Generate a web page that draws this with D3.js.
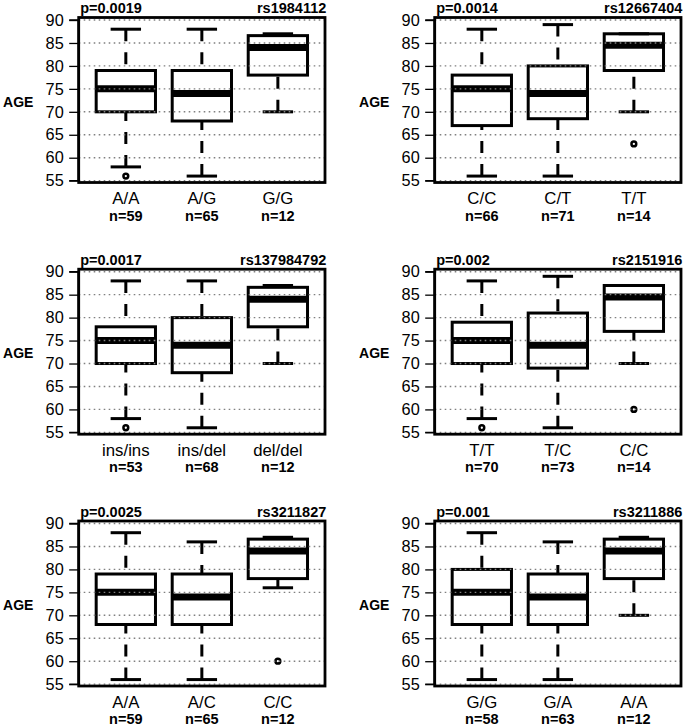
<!DOCTYPE html>
<html><head><meta charset="utf-8">
<script src="https://cdn.jsdelivr.net/npm/d3@7"></script>
<style>
html,body{margin:0;padding:0;background:#fff;}
svg{display:block;font-family:"Liberation Sans",Arial,Helvetica,sans-serif;}
</style></head>
<body>
<svg id="chart" width="685" height="727"></svg>
<script>
// ---- data ----
const snps = ["rs1984112","rs12667404","rs137984792","rs2151916","rs3211827","rs3211886"];
const pValues = ["p=0.0019","p=0.0014","p=0.0017","p=0.002","p=0.0025","p=0.001"];
const genotypes = [["A/A","A/G","G/G"],["C/C","C/T","T/T"],["ins/ins","ins/del","del/del"],["T/T","T/C","C/C"],["A/A","A/C","C/C"],["G/G","G/A","A/A"]];
const counts = [[59,65,12],[66,71,14],[53,68,12],[70,73,14],[59,65,12],[58,63,12]];
const whiskerLow  = [[58,56,70],[56,56,70],[58,56,70],[58,56,70],[56,56,76],[56,56,70]];
const q1          = [[70,68,78],[67,68.5,79],[70,68,78],[70,69,77],[68,68,78],[68,68,78]];
const medians     = [[75,74,84],[75,74,84.5],[75,74,84],[75,74,84.5],[75,74,84],[75,74,84]];
const q3          = [[79,79,86.6],[78,80,87],[78,80,86.6],[79,81,87],[79,79,86.6],[80,79,86.6]];
const whiskerHigh = [[88,88,87],[88,89,87],[88,88,87],[88,89,87],[88,86,87],[88,86,87]];
const outliers    = [[[56],[],[]],[[],[],[63]],[[56],[],[]],[[56],[],[60]],[[],[],[60]],[[],[],[]]];
const yTicks = [55,60,65,70,75,80,85,90];
const yLabel = "AGE";

// ---- layout ----
const svg = d3.select("#chart");
const colX = [78.7, 434.7];
const rowY = [17.5, 269.2, 521];
const plotW = 246.3, plotH = 165;
const FONT = '"Liberation Sans",Arial,Helvetica,sans-serif';

snps.forEach((snp, i) => {
  const col = i % 2, row = Math.floor(i / 2);
  const g = svg.append("g").attr("transform", `translate(${colX[col]},${rowY[row]})`);
  const x = d3.scaleLinear().domain([0.38, 3.62]).range([0, plotW]);
  const y = d3.scaleLinear().domain([54.6, 90.55]).range([plotH, 0]);
  const cats = genotypes[i];
  const bw = (x(1.39) - x(1)); // half box width
  const sw = (x(1.2) - x(1));  // half staple width

  // y axis
  const yAxis = d3.axisLeft(y).tickValues(yTicks).tickSize(9).tickPadding(5.5);
  const ax = g.append("g").attr("transform", "translate(-0.5,0)").call(yAxis);
  ax.select(".domain").attr("d", `M-9,${y(55)}H0V${y(90)}H-9`).attr("stroke", "#000").attr("stroke-width", 1.3);
  ax.selectAll(".tick line").attr("stroke", "#000").attr("stroke-width", 1.3);
  ax.selectAll(".tick text").attr("font-size", 16.3).attr("font-family", FONT).attr("fill", "#000");

  // AGE label
  g.append("text").attr("x", -60.5).attr("y", plotH / 2 + 6.5).attr("text-anchor", "middle")
    .attr("font-size", 14).attr("font-weight", "bold").attr("font-family", FONT).text(yLabel);

  const boxes = g.append("g");
  cats.forEach((c, j) => {
    const cx = x(j + 1);
    // whiskers (dashed), drawn from whisker end to hinge
    boxes.append("line").attr("x1", cx).attr("x2", cx).attr("y1", y(whiskerLow[i][j])).attr("y2", y(q1[i][j]))
      .attr("stroke", "#000").attr("stroke-width", 3).attr("stroke-dasharray", "12,11");
    boxes.append("line").attr("x1", cx).attr("x2", cx).attr("y1", y(whiskerHigh[i][j])).attr("y2", y(q3[i][j]))
      .attr("stroke", "#000").attr("stroke-width", 3).attr("stroke-dasharray", "12,11");
    // staples
    [whiskerLow[i][j], whiskerHigh[i][j]].forEach(v => {
      boxes.append("line").attr("x1", cx - sw).attr("x2", cx + sw).attr("y1", y(v)).attr("y2", y(v))
        .attr("stroke", "#000").attr("stroke-width", 3);
    });
    // box
    boxes.append("rect").attr("x", cx - bw).attr("width", 2 * bw)
      .attr("y", y(q3[i][j])).attr("height", y(q1[i][j]) - y(q3[i][j]))
      .attr("fill", "none").attr("stroke", "#000").attr("stroke-width", 3);
    // median
    boxes.append("line").attr("x1", cx - bw).attr("x2", cx + bw).attr("y1", y(medians[i][j])).attr("y2", y(medians[i][j]))
      .attr("stroke", "#000").attr("stroke-width", 7);
    // outliers
    outliers[i][j].forEach(v => {
      boxes.append("circle").attr("cx", cx).attr("cy", y(v)).attr("r", 2.4)
        .attr("fill", "none").attr("stroke", "#000").attr("stroke-width", 2.5);
    });
    // category labels
    g.append("text").attr("x", cx).attr("y", plotH + 21.8).attr("text-anchor", "middle")
      .attr("font-size", 16.8).attr("font-family", FONT).text(c);
    g.append("text").attr("x", cx).attr("y", plotH + 38).attr("text-anchor", "middle")
      .attr("font-size", 14.5).attr("font-weight", "bold").attr("font-family", FONT).text("n=" + counts[i][j]);
  });

  // grid (dotted), drawn on top
  g.append("g").selectAll("line").data(yTicks).join("line")
    .attr("x1", 0).attr("x2", plotW).attr("y1", d => y(d)).attr("y2", d => y(d))
    .attr("stroke", "#808080").attr("stroke-width", 1.4).attr("stroke-dasharray", "1.6,3.4");

  // border
  g.append("rect").attr("x", 0).attr("y", 0).attr("width", plotW).attr("height", plotH)
    .attr("fill", "none").attr("stroke", "#000").attr("stroke-width", 2.8);

  // titles
  g.append("text").attr("x", 1.5).attr("y", -4.2).attr("font-size", 14.5).attr("font-weight", "bold")
    .attr("font-family", FONT).text(pValues[i]);
  g.append("text").attr("x", plotW + 1.3).attr("y", -4.2).attr("text-anchor", "end").attr("font-size", 14.5)
    .attr("font-weight", "bold").attr("font-family", FONT).text(snp);
});
</script>
</body></html>
